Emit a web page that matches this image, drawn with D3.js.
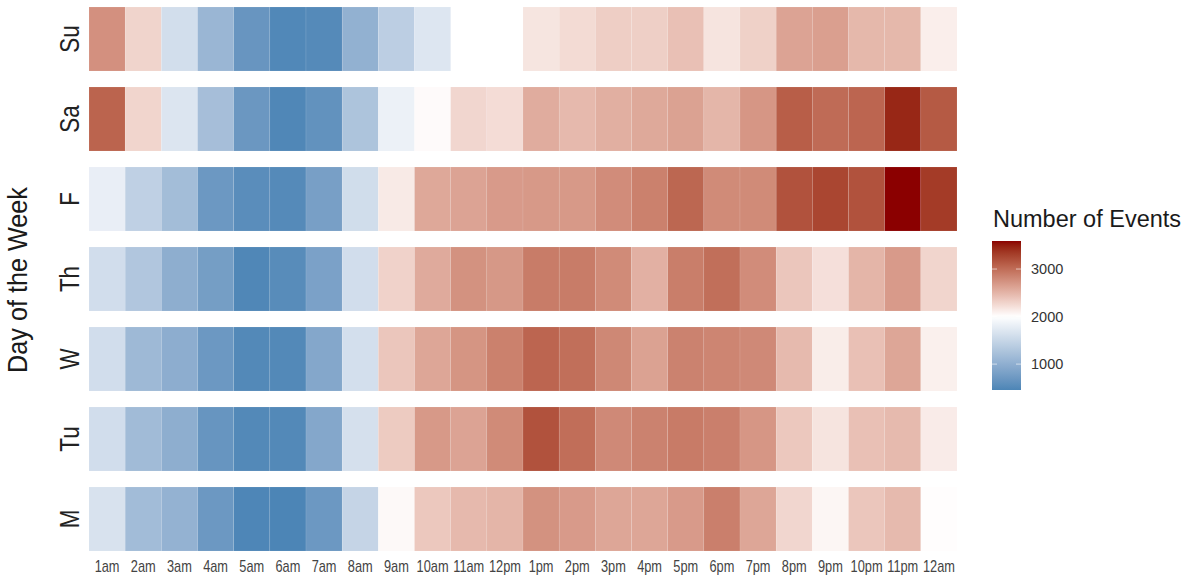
<!DOCTYPE html>
<html>
<head>
<meta charset="utf-8">
<script src="https://cdn.jsdelivr.net/npm/d3@7"></script>
<style>
  html, body { margin: 0; padding: 0; background: #fff; }
  svg { display: block; font-family: "Liberation Sans", Arial, sans-serif; }
</style>
</head>
<body>
<svg id="chart" width="1194" height="580"></svg>
<script>
// ---- data ----
const hours = ["1am","2am","3am","4am","5am","6am","7am","8am","9am","10am","11am","12pm",
               "1pm","2pm","3pm","4pm","5pm","6pm","7pm","8pm","9pm","10pm","11pm","12am"];
const days = ["Su","Sa","F","Th","W","Tu","M"]; // top to bottom

const su = [2750,2290,1600,1100,665,490,520,1030,1400,1700,null,null,2175,2240,2330,2320,2420,2180,2310,2620,2650,2480,2480,2110];
const sa = [3060,2280,1690,1200,690,480,620,1270,1830,2030,2270,2230,2560,2470,2540,2580,2630,2490,2710,3100,3010,3050,3450,3130];
const fr = [1800,1430,1180,700,560,520,800,1580,2140,2590,2620,2680,2690,2690,2780,2860,3040,2790,2790,3180,3260,3180,3590,3330];
const th = [1590,1300,990,780,480,540,830,1590,2300,2570,2740,2700,2890,2890,2790,2530,2880,2980,2780,2380,2210,2500,2680,2280];
const we = [1590,1130,980,700,500,500,900,1610,2380,2600,2720,2860,3050,2980,2810,2630,2850,2830,2800,2460,2120,2420,2600,2100];
const tu = [1590,1160,990,660,500,500,900,1620,2350,2690,2620,2790,3180,2990,2800,2850,2900,2870,2710,2370,2180,2420,2460,2130];
const mo = [1650,1170,1040,700,470,455,700,1480,2040,2370,2470,2500,2740,2680,2600,2600,2680,2870,2600,2270,2060,2380,2460,2010];

const legendTicks = [1000, 2000, 3000];
const midpoint = 2000;

// ---- build table ----
const rows = {Su: su, Sa: sa, F: fr, Th: th, W: we, Tu: tu, M: mo};
const cells = [];
days.forEach(d => rows[d].forEach((v, i) => { if (v != null) cells.push({day: d, hour: hours[i], value: v}); }));

const svg = d3.select("#chart");

const x = d3.scaleBand().domain(hours).range([89, 957]).padding(0);
const y = d3.scaleBand().domain(days).range([7, 551]).paddingInner(0.2).paddingOuter(0);

const ext = d3.extent(cells, c => c.value);
const dist = Math.max(Math.abs(ext[0] - midpoint), Math.abs(ext[1] - midpoint));
const color = d3.scaleLinear()
  .domain([midpoint - dist, midpoint, midpoint + dist])
  .range(["steelblue", "white", "darkred"])
  .interpolate(d3.interpolateLab);

// tiles
svg.append("g").selectAll("rect").data(cells).join("rect")
  .attr("x", d => x(d.hour))
  .attr("y", d => y(d.day))
  .attr("width", x.bandwidth())
  .attr("height", y.bandwidth())
  .attr("fill", d => color(d.value))
  .attr("stroke", "#fff")
  .attr("stroke-width", 0.5)
  .attr("stroke-opacity", 0.2);

// x axis
const xAxis = svg.append("g")
  .attr("transform", "translate(0,551)")
  .call(d3.axisBottom(x).tickSize(0).tickPadding(0));
xAxis.select(".domain").remove();
xAxis.selectAll("text")
  .attr("y", 21)
  .attr("dy", 0)
  .attr("transform", "scale(0.8,1)")
  .attr("fill", "#444")
  .style("font-size", "16px")
  .style("font-family", "'Liberation Sans', Arial, sans-serif");

// y axis
const yAxis = svg.append("g")
  .attr("transform", "translate(89,0)")
  .call(d3.axisLeft(y).tickSize(0));
yAxis.select(".domain").remove();
yAxis.selectAll("text")
  .attr("x", 0)
  .attr("y", -10)
  .attr("dy", 0)
  .attr("text-anchor", "middle")
  .attr("transform", "rotate(-90) scale(0.8,1)")
  .attr("fill", "#222")
  .style("font-size", "28px")
  .style("font-family", "'Liberation Sans', Arial, sans-serif");

// y title
svg.append("text")
  .attr("transform", "translate(27,280) rotate(-90) scale(0.9,1)")
  .attr("text-anchor", "middle")
  .attr("fill", "#1a1a1a")
  .style("font-size", "28px")
  .text("Day of the Week");

// legend
const lx = 992, lw = 29, ltop = 241, lbot = 390;
const ly = d3.scaleLinear().domain(ext).range([lbot, ltop]);
const defs = svg.append("defs");
const grad = defs.append("linearGradient").attr("id", "lg")
  .attr("x1", 0).attr("y1", 1).attr("x2", 0).attr("y2", 0);
d3.range(0, 1.0001, 0.02).forEach(t => {
  grad.append("stop").attr("offset", t)
    .attr("stop-color", color(ext[0] + t * (ext[1] - ext[0])));
});
svg.append("rect")
  .attr("x", lx).attr("y", ltop).attr("width", lw).attr("height", lbot - ltop)
  .attr("fill", "url(#lg)");

const lg = svg.append("g");
legendTicks.forEach(t => {
  lg.append("line").attr("x1", lx).attr("x2", lx + 5).attr("y1", ly(t)).attr("y2", ly(t))
    .attr("stroke", "#fff").attr("stroke-opacity", 0.6).attr("stroke-width", 1);
  lg.append("line").attr("x1", lx + lw - 5).attr("x2", lx + lw).attr("y1", ly(t)).attr("y2", ly(t))
    .attr("stroke", "#fff").attr("stroke-opacity", 0.6).attr("stroke-width", 1);
});
const legAxis = svg.append("g")
  .attr("transform", `translate(${lx + lw},0)`)
  .call(d3.axisRight(ly).tickValues(legendTicks).tickSize(0).tickPadding(10).tickFormat(d3.format("d")));
legAxis.select(".domain").remove();
legAxis.selectAll("text")
  .attr("fill", "#333")
  .style("font-size", "14.5px")
  .style("font-family", "'Liberation Sans', Arial, sans-serif");

svg.append("text")
  .attr("x", 993).attr("y", 227)
  .attr("fill", "#1a1a1a")
  .style("font-size", "23.5px")
  .text("Number of Events");
</script>
</body>
</html>
